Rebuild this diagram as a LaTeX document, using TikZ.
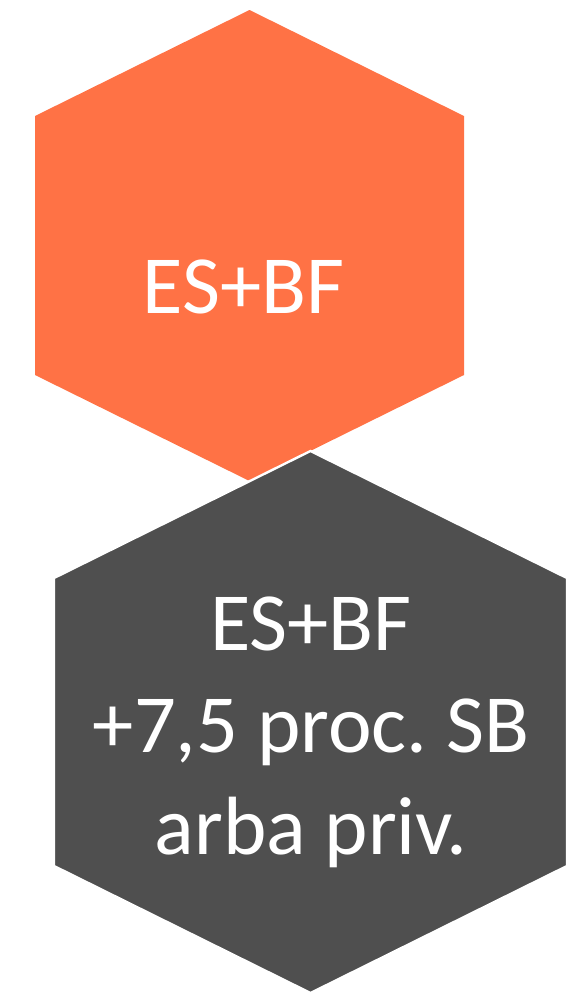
\documentclass[tikz,border=0pt]{standalone}
\usepackage{fontspec}
\setmainfont{Carlito}
\definecolor{hexorange}{RGB}{255,114,69}
\definecolor{hexgray}{RGB}{79,79,79}
\tikzset{
  hexfill/.style={fill=#1, draw=none},
  hexline/.style={fill=#1, draw=white, line width=1.8pt, line join=miter},
  hextext/.style={text=white, anchor=base, inner sep=0pt, font=\fontsize{62pt}{76.5pt}\selectfont\frenchspacing}
}
\begin{document}
\begin{tikzpicture}[x=0.75pt, y=-0.75pt]
\useasboundingbox (0,0) rectangle (580,992);
% orange hexagon
\path[hexfill=hexorange] (249.5,10) -- (464,116) -- (464,375) -- (249.5,481) -- (35,375) -- (35,116) -- cycle;
\node[hextext] (top) at (243.5,313) {ES+BF};
% gray hexagon
\path[hexline=hexgray] (310.5,451) -- (567,578) -- (567,866) -- (310.5,993) -- (54,866) -- (54,578) -- cycle;
\node[hextext] (bottom) at (311,650) {\vtop{\halign{\hfil#\hfil\cr ES+BF\cr +7,5 proc. SB\cr arba priv.\cr}}};
\end{tikzpicture}
\end{document}
